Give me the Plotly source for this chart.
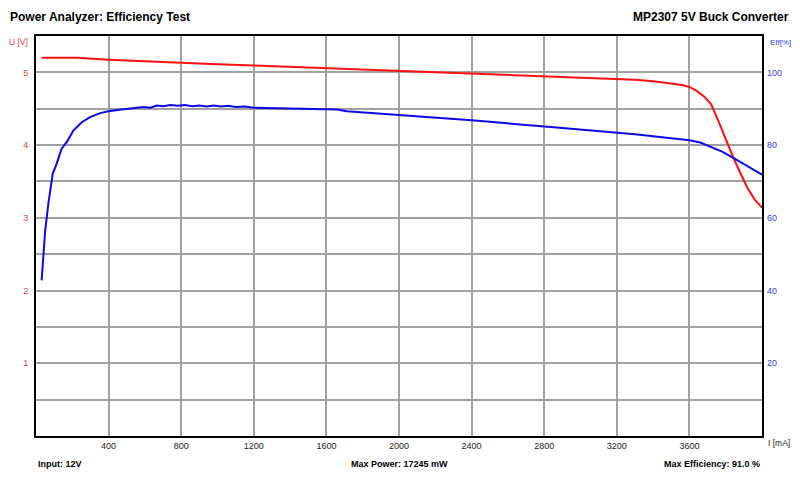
import plotly.graph_objects as go

# voltage curve
current_u = [31, 100, 224, 400, 600, 800, 1000, 1200, 1400, 1600, 1800, 2000, 2200, 2400,
             2600, 2800, 3000, 3200, 3300, 3400, 3500, 3560, 3600, 3640, 3680, 3720, 3760,
             3800, 3840, 3880, 3920, 3960, 4000]
voltage = [5.20, 5.20, 5.20, 5.175, 5.15, 5.13, 5.11, 5.096, 5.078, 5.06, 5.04, 5.018, 5.002,
           4.986, 4.968, 4.95, 4.935, 4.91, 4.90, 4.878, 4.85, 4.825, 4.80, 4.745, 4.67, 4.56,
           4.33, 4.08, 3.84, 3.62, 3.41, 3.25, 3.14]

# efficiency curve
current_e = [31, 50, 68, 92, 114, 141, 169, 206, 252, 298, 353, 400, 460, 518, 560, 591, 630,
             665, 700, 740, 780, 820, 860, 900, 940, 980, 1020, 1060, 1100, 1150, 1200, 1280,
             1344, 1420, 1500, 1600, 1660, 1712, 1800, 1900, 2000, 2100, 2200, 2300, 2400,
             2500, 2600, 2700, 2800, 2900, 3000, 3100, 3200, 3300, 3438, 3520, 3600, 3660,
             3714, 3780, 3842, 3920, 4000]
efficiency = [42.8, 56.1, 63.9, 72.1, 74.9, 79.0, 80.8, 84.0, 86.3, 87.7, 88.8, 89.3, 89.7,
              90.0, 90.3, 90.5, 90.3, 90.9, 90.7, 91.0, 90.8, 91.0, 90.7, 90.9, 90.6, 90.9,
              90.6, 90.8, 90.5, 90.6, 90.3, 90.2, 90.0, 90.0, 89.8, 89.7, 89.8, 89.3, 89.0,
              88.6, 88.2, 87.9, 87.5, 87.2, 86.8, 86.4, 85.9, 85.6, 85.1, 84.7, 84.3, 83.9,
              83.3, 83.0, 82.2, 81.8, 81.3, 80.7, 79.6, 78.2, 76.5, 74.3, 71.9]

x_ticks = list(range(400, 4000, 400))
u_grid = [i * 0.5 for i in range(1, 12)]
u_labels = [str(int(v)) if v == int(v) and v <= 5 else "" for v in u_grid]
eff_ticks = [20, 40, 60, 80, 100]

font = "Liberation Sans, Arial, sans-serif"
red = "#ff1010"
blue = "#0a0ae6"
grid = "#a0a0a0"

fig = go.Figure()
fig.add_trace(go.Scatter(x=current_u, y=voltage, mode="lines", name="U",
                         line=dict(color=red, width=2), yaxis="y"))
fig.add_trace(go.Scatter(x=current_e, y=efficiency, mode="lines", name="Eff",
                         line=dict(color=blue, width=2), yaxis="y2"))

# the page body adds an 8px offset, so the figure is 8px smaller on each axis
fig.update_layout(
    width=792, height=472,
    margin=dict(l=28, r=38, t=28, b=44),
    paper_bgcolor="white", plot_bgcolor="white",
    showlegend=False,
    font=dict(family=font, size=9, color="#222222"),
    xaxis=dict(range=[0, 4000], tickvals=x_ticks, showgrid=True, gridcolor=grid, gridwidth=1.5,
               showline=True, linecolor="black", linewidth=2, mirror=True, zeroline=False,
               ticks="", automargin=False, tickfont=dict(size=9, color="#222222")),
    yaxis=dict(range=[0, 5.5], tickvals=u_grid, ticktext=u_labels, showgrid=True,
               gridcolor=grid, gridwidth=1.5, showline=True, linecolor="black", linewidth=2,
               mirror=True, zeroline=False, ticks="", ticklabelstandoff=4, automargin=False,
               tickfont=dict(size=9, color="#e8383a")),
    yaxis2=dict(range=[0, 110], tickvals=eff_ticks, overlaying="y", side="right",
                showgrid=False, zeroline=False, showline=False, ticks="", ticklabelstandoff=4,
                automargin=False, tickfont=dict(size=9, color="#3a3ae8")),
)

annots = [
    dict(text="<b>Power Analyzer: Efficiency Test</b>", x=-0.0386, y=1.0475, xanchor="left",
         font=dict(size=12, color="black")),
    dict(text="<b>MP2307 5V Buck Converter</b>", x=1.040, y=1.0475, xanchor="right",
         font=dict(size=12, color="black")),
    dict(text="U [V]", x=-0.008, y=0.985, xanchor="right", font=dict(size=8.5, color="#e8383a")),
    dict(text="Eff[%]", x=1.0076, y=0.985, xanchor="left", font=dict(size=8, color="#3a3ae8")),
    dict(text="I [mA]", x=1.0055, y=-0.0175, xanchor="left", font=dict(size=8.5, color="#222222")),
    dict(text="<b>Input: 12V</b>", x=0.0, y=-0.07, xanchor="left", font=dict(size=9, color="black")),
    dict(text="<b>Max Power: 17245 mW</b>", x=0.5, y=-0.07, xanchor="center",
         font=dict(size=9, color="black")),
    dict(text="<b>Max Efficiency: 91.0 %</b>", x=1.0, y=-0.07, xanchor="right",
         font=dict(size=9, color="black")),
]
for a in annots:
    fig.add_annotation(xref="paper", yref="paper", showarrow=False, yanchor="middle", **a)

fig.write_html("out.html")
